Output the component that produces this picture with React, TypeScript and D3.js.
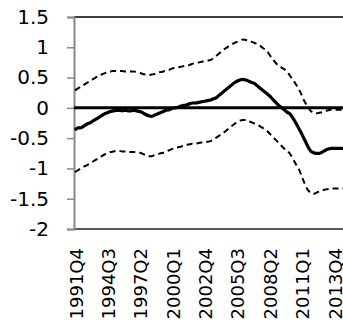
import React, { useRef, useEffect } from 'react';
import * as d3 from 'd3';

// quarterly estimates, 1991Q4 onward
const central = [
  -0.37, -0.33, -0.33, -0.30, -0.27, -0.25, -0.22, -0.19, -0.16, -0.13,
  -0.10, -0.08, -0.06, -0.05, -0.04, -0.04, -0.05, -0.04, -0.05, -0.05,
  -0.04, -0.05, -0.06, -0.08, -0.11, -0.13, -0.14, -0.12, -0.10, -0.08,
  -0.06, -0.04, -0.03, -0.01, 0.00, 0.01, 0.03, 0.04, 0.05, 0.07,
  0.08, 0.08, 0.09, 0.10, 0.11, 0.12, 0.13, 0.15, 0.17, 0.21,
  0.25, 0.29, 0.33, 0.37, 0.41, 0.44, 0.46, 0.47, 0.46, 0.44,
  0.42, 0.40, 0.36, 0.32, 0.28, 0.24, 0.20, 0.15, 0.10, 0.05,
  0.01, -0.03, -0.07, -0.10, -0.17, -0.25, -0.34, -0.43, -0.53, -0.63,
  -0.71, -0.74, -0.75, -0.75, -0.73, -0.70, -0.68, -0.67, -0.67, -0.67,
  -0.67, -0.67,
];

const upper = [
  0.29, 0.32, 0.35, 0.38, 0.41, 0.44, 0.47, 0.50, 0.53, 0.55,
  0.57, 0.59, 0.60, 0.61, 0.61, 0.61, 0.61, 0.60, 0.60, 0.60,
  0.60, 0.59, 0.58, 0.56, 0.55, 0.54, 0.55, 0.56, 0.58, 0.59,
  0.60, 0.62, 0.63, 0.65, 0.66, 0.67, 0.68, 0.69, 0.70, 0.71,
  0.73, 0.74, 0.75, 0.76, 0.77, 0.78, 0.79, 0.82, 0.86, 0.90,
  0.94, 0.98, 1.01, 1.04, 1.07, 1.09, 1.11, 1.13, 1.12, 1.11,
  1.09, 1.07, 1.05, 1.02, 0.98, 0.95, 0.88, 0.81, 0.75, 0.70,
  0.67, 0.64, 0.60, 0.53, 0.46, 0.39, 0.31, 0.21, 0.10, 0.02,
  -0.05, -0.08, -0.09, -0.08, -0.07, -0.05, -0.04, -0.03, -0.03, -0.03,
  -0.03, -0.03,
];

const lower = [
  -1.06, -1.03, -1.00, -0.97, -0.95, -0.92, -0.89, -0.86, -0.83, -0.80,
  -0.77, -0.75, -0.73, -0.72, -0.71, -0.71, -0.72, -0.72, -0.73, -0.73,
  -0.73, -0.74, -0.74, -0.76, -0.78, -0.80, -0.80, -0.78, -0.77, -0.75,
  -0.74, -0.72, -0.70, -0.68, -0.66, -0.65, -0.64, -0.62, -0.61, -0.60,
  -0.59, -0.59, -0.58, -0.57, -0.57, -0.56, -0.55, -0.52, -0.49, -0.46,
  -0.43, -0.39, -0.35, -0.31, -0.27, -0.24, -0.21, -0.20, -0.20, -0.22,
  -0.24, -0.26, -0.28, -0.31, -0.34, -0.37, -0.42, -0.47, -0.52, -0.57,
  -0.62, -0.67, -0.71, -0.76, -0.84, -0.93, -1.01, -1.13, -1.25, -1.35,
  -1.40, -1.42, -1.40, -1.38, -1.36, -1.35, -1.34, -1.33, -1.33, -1.33,
  -1.33, -1.33,
];

const tickLabels = ['1991Q4', '1994Q3', '1997Q2', '2000Q1', '2002Q4', '2005Q3', '2008Q2', '2011Q1', '2013Q4'];
const yTicks = [1.5, 1, 0.5, 0, -0.5, -1, -1.5, -2];

// category list: one quarter per value, starting 1991Q4
const quarters = central.map((_, i) => {
  const q = 3 + i; // 1991Q4 is index 3 of 1991
  return `${1991 + Math.floor(q / 4)}Q${(q % 4) + 1}`;
});

const W = 343;
const H = 324;

const App = () => {
  const svgRef = useRef<SVGSVGElement>(null);

  useEffect(() => {
    const svg = d3.select(svgRef.current);
    svg.selectAll('*').remove();

    const left = 74;
    const x = d3.scalePoint<string>()
      .domain(quarters)
      .range([75, 75 + (quarters.length - 1) * 2.945]);
    const y = d3.scaleLinear().domain([-2, 1.5]).range([229, 17]);

    const font = 'DejaVu Sans, sans-serif';

    // top and bottom border lines
    svg.append('line')
      .attr('x1', left).attr('x2', W)
      .attr('y1', y(1.5)).attr('y2', y(1.5))
      .attr('stroke', '#000').attr('stroke-width', 1.5);
    svg.append('line')
      .attr('x1', left).attr('x2', W)
      .attr('y1', y(-2)).attr('y2', y(-2))
      .attr('stroke', '#222').attr('stroke-width', 1.5);

    // y axis
    const yAxis = svg.append('g')
      .attr('transform', `translate(${left},0)`)
      .call(d3.axisLeft(y).tickValues(yTicks).tickSize(7).tickPadding(18)
        .tickFormat(d => String(d)));
    yAxis.select('.domain').attr('stroke', '#888').attr('stroke-width', 2);
    yAxis.selectAll('.tick line').attr('stroke', '#888').attr('stroke-width', 1.5);
    yAxis.selectAll('.tick text')
      .attr('fill', '#000')
      .style('font-family', font)
      .style('font-size', '20px');

    // x labels
    svg.append('g')
      .selectAll('text')
      .data(tickLabels)
      .enter()
      .append('text')
      .attr('transform', d => `translate(${x(d)! + 1},248) rotate(-90)`)
      .attr('text-anchor', 'end')
      .attr('dominant-baseline', 'central')
      .style('font-family', font)
      .style('font-size', '18px')
      .text(d => d);

    // zero line
    svg.append('line')
      .attr('x1', left).attr('x2', W)
      .attr('y1', y(0)).attr('y2', y(0))
      .attr('stroke', '#000').attr('stroke-width', 3);

    const line = (vals: number[]) =>
      d3.line<number>()
        .x((_, i) => x(quarters[i])!)
        .y(d => y(d))
        .curve(d3.curveMonotoneX)(vals);

    svg.append('path')
      .attr('d', line(upper))
      .attr('fill', 'none')
      .attr('stroke', '#000')
      .attr('stroke-width', 2)
      .attr('stroke-dasharray', '6,4');
    svg.append('path')
      .attr('d', line(lower))
      .attr('fill', 'none')
      .attr('stroke', '#000')
      .attr('stroke-width', 2)
      .attr('stroke-dasharray', '6,4');
    svg.append('path')
      .attr('d', line(central))
      .attr('fill', 'none')
      .attr('stroke', '#000')
      .attr('stroke-width', 3.2);
  }, []);

  return (
    <svg
      ref={svgRef}
      width={W}
      height={H}
      style={{ position: 'absolute', left: 0, top: 0, background: '#fff' }}
    />
  );
};

export default App;
